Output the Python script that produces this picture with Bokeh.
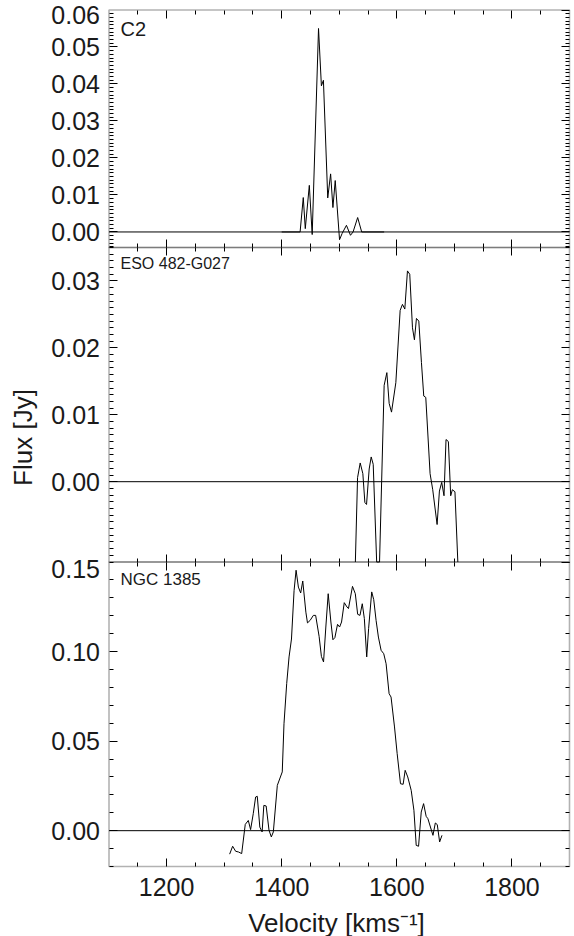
import numpy as np
from bokeh.plotting import figure
from bokeh.models import (Range1d, LinearAxis, FixedTicker, NumeralTickFormatter,
                          Label, BoxAnnotation)
from bokeh.embed import file_html
from bokeh.resources import INLINE

# ---------------- data ----------------
panel_names = ["C2", "ESO 482-G027", "NGC 1385"]

c2_vel = [1400, 1432, 1437.5, 1441, 1448, 1453, 1464, 1469, 1472.5, 1480, 1485,
          1489, 1493, 1500.5, 1505, 1512.5, 1519.5, 1524, 1532, 1539, 1578]
c2_flux = [0, 0, 0.0093, 0.0009, 0.0126, -0.0007, 0.0550, 0.0395, 0.0410, 0.0092,
           0.0157, 0.0066, 0.0139, -0.0021, -0.0004, 0.0018, -0.0009, 0.0, 0.0039,
           0.0, 0.0]

eso_vel = [1528, 1531.8, 1536.4, 1541, 1544.5, 1547.4, 1552, 1555.5, 1559, 1565,
           1570, 1578, 1582.7, 1586.7, 1590.8, 1598.3, 1605.8, 1609.8, 1613.9, 1618.5,
           1622.5, 1627.2, 1630.6, 1634.1, 1638.2, 1642.8, 1646.8, 1650.3, 1657.8,
           1662.4, 1670, 1674, 1678, 1682, 1685.5, 1689.6, 1693.6, 1696.5, 1701, 1706]
eso_flux = [-0.012, 0.0006, 0.0028, 0.0012, -0.0031, -0.0034, 0.0019, 0.0037, 0.0026,
            -0.012, -0.012, 0.0144, 0.0163, 0.0117, 0.0104, 0.0148, 0.0256, 0.0265,
            0.0258, 0.0315, 0.0310, 0.0230, 0.0212, 0.0244, 0.0240, 0.0178, 0.0128,
            0.0126, 0.0012, -0.0012, -0.0064, -0.0014, -0.0001, -0.0021, 0.0063,
            0.0060, -0.0021, -0.0012, -0.0015, -0.012]

ngc_vel = [1309.6, 1314.8, 1320, 1325, 1330.5, 1336.7, 1342, 1346, 1350.6, 1354.7,
           1357.6, 1362, 1366, 1369, 1373, 1378, 1382, 1385.5, 1392.4, 1401, 1404,
           1408.7, 1412.8, 1417, 1421.5, 1425, 1429, 1433, 1436.6, 1442, 1444.8,
           1449.4, 1455, 1459, 1465, 1469, 1472.7, 1476.7, 1480.8, 1485.5, 1489,
           1492.4, 1497, 1500.6, 1504, 1508.7, 1513.4, 1516, 1523, 1527.9, 1532, 1536,
           1540, 1543.6, 1547.7, 1551, 1556.4, 1559.9, 1564, 1568, 1572.7, 1577.3,
           1581.4, 1586.6, 1590, 1596, 1600.6, 1606.4, 1611, 1614.5, 1619, 1625,
           1629.7, 1633.7, 1637.8, 1642.4, 1646.5, 1651, 1654, 1662.8, 1666.9, 1670.3,
           1674.4, 1678.5]
ngc_flux = [-0.0131, -0.0087, -0.0115, -0.0119, -0.0128, 0.0035, 0.0057, 0.0006,
            0.0095, 0.0188, 0.0192, 0.0020, -0.0007, 0.0141, 0.0138, 0.0002, -0.0035,
            -0.0007, 0.0253, 0.0328, 0.0597, 0.0821, 0.0970, 0.1070, 0.1340, 0.1454,
            0.1360, 0.1327, 0.1394, 0.1220, 0.1160, 0.1174, 0.1202, 0.1202, 0.1085,
            0.0973, 0.0942, 0.1137, 0.1323, 0.1165, 0.1066, 0.1078, 0.1152, 0.1137,
            0.1165, 0.1273, 0.1249, 0.1240, 0.1364, 0.1323, 0.1208, 0.1202, 0.1267,
            0.1184, 0.0970, 0.1128, 0.1333, 0.1290, 0.1174, 0.1081, 0.1007, 0.0988,
            0.0932, 0.0765, 0.0746, 0.0579, 0.0430, 0.0262, 0.0259, 0.0337, 0.0300,
            0.0225, 0.0114, -0.0082, -0.0087, 0.0104, 0.0151, 0.0080, 0.0067, -0.0026,
            0.0043, 0.0034, -0.0063, -0.0026]

x_ticks = [1200, 1400, 1600, 1800]
x_minor = [1150, 1250, 1300, 1350, 1450, 1500, 1550, 1650, 1700, 1750, 1850]

c2_yticks = [0.00, 0.01, 0.02, 0.03, 0.04, 0.05, 0.06]
eso_yticks = [0.00, 0.01, 0.02, 0.03]
ngc_yticks = [0.00, 0.05, 0.10, 0.15]

# ---------------- layout / style ----------------
FONT = "Liberation Sans"
TXT = "#1a1a1a"
TICK_FS = "25px"
TITLE_FS = "26px"
NAME_FS = ["20px", "16px", "17px"]
W, H = 574, 936
XLO, XHI = 1100, 1900
XL, XR = 108.5, 569.0            # canvas x of XLO / XHI
upx = (XHI - XLO) / (XR - XL)
x_range = Range1d(XLO - XL * upx, XHI + (W - XR) * upx)

# name: (ylo, yhi, frame bottom [px from canvas bottom], frame height [px], minor step)
PANELS = {
    "p1": (-0.0042, 0.06, 689, 237.5, 0.001),
    "p2": (-0.012, 0.035, 374.5, 314.5, 0.001),
    "p3": (-0.02, 0.15, 70, 304.5, 0.01),
}


def make_range(lo, hi, b, h):
    upp = (hi - lo) / h
    s = lo - b * upp
    return Range1d(s, s + H * upp)


ranges = {k: make_range(*v[:4]) for k, v in PANELS.items()}
r3 = ranges["p3"]


def y3(px):  # canvas px from bottom -> default (panel 3) units
    return r3.start + px * (r3.end - r3.start) / H


def rn(k):
    return "default" if k == "p3" else k


p = figure(width=W, height=H, x_range=x_range, y_range=r3,
           output_backend="svg", toolbar_location=None,
           x_axis_location=None, y_axis_location=None,
           min_border_left=0, min_border_right=0, min_border_top=0, min_border_bottom=0)
p.extra_y_ranges = {"p1": ranges["p1"], "p2": ranges["p2"]}
p.outline_line_color = None
p.grid.grid_line_color = None
p.background_fill_color = "white"
p.border_fill_color = "white"


def base_axis(**kw):
    ax = LinearAxis(**kw)
    ax.axis_line_color = None
    ax.major_tick_out = 0
    ax.minor_tick_out = 0
    ax.major_tick_in = 8
    ax.minor_tick_in = 4
    ax.major_tick_line_color = "black"
    ax.minor_tick_line_color = "black"
    ax.major_tick_line_width = 1
    ax.minor_tick_line_width = 1
    ax.major_label_text_font = FONT
    ax.major_label_text_font_size = TICK_FS
    ax.major_label_text_color = TXT
    return ax


def bare_axes(side, majors, minors, **kw):
    # ticks only, no labels: majors drawn as long "minor" ticks
    a1 = base_axis(ticker=FixedTicker(ticks=[], minor_ticks=minors), **kw)
    a2 = base_axis(ticker=FixedTicker(ticks=[], minor_ticks=majors), **kw)
    a2.minor_tick_in = 8
    p.add_layout(a1, side)
    p.add_layout(a2, side)


yticks = {"p1": c2_yticks, "p2": eso_yticks, "p3": ngc_yticks}

for k, (lo, hi, b, h, step) in PANELS.items():
    majors = [t for t in yticks[k] if lo <= t <= hi]
    minors = [round(v, 4) for v in np.arange(np.ceil(lo / step) * step, hi + 1e-9, step)
              if all(abs(v - t) > 1e-9 for t in majors)]
    # left axis with labels (top-edge label drawn separately)
    shown = [t for t in majors if t < hi - 1e-9]
    ax = base_axis(ticker=FixedTicker(ticks=shown, minor_ticks=minors),
                   formatter=NumeralTickFormatter(format="0.00"),
                   y_range_name=rn(k), fixed_location=XLO)
    ax.major_label_standoff = 9
    p.add_layout(ax, "left")
    # right axis: ticks only
    bare_axes("right", majors, minors, y_range_name=rn(k), fixed_location=XHI)
    # top and bottom edges of the panel
    bare_axes("above", x_ticks, x_minor, fixed_location=y3(b + h))
    if k != "p3":
        bare_axes("below", x_ticks, x_minor, fixed_location=y3(b))

    # panel frame and zero line
    p.add_layout(BoxAnnotation(left=XLO, right=XHI, bottom=lo, top=hi,
                               y_range_name=rn(k), fill_color=None, fill_alpha=0,
                               line_color="black", line_width=1.6))
    p.segment(x0=[XLO], y0=[0], x1=[XHI], y1=[0], y_range_name=rn(k),
              line_color="black", line_width=1)

# labelled bottom axis
bx = base_axis(ticker=FixedTicker(ticks=x_ticks, minor_ticks=x_minor),
               fixed_location=y3(PANELS["p3"][2]))
bx.major_label_standoff = 11
p.add_layout(bx, "below")

# spectra
p.line(c2_vel, c2_flux, y_range_name="p1", line_color="black", line_width=1)
p.line(eso_vel, eso_flux, y_range_name="p2", line_color="black", line_width=1)
p.line(ngc_vel, ngc_flux, y_range_name="default", line_color="black", line_width=1)

# panel names
for k, name, fs in zip(["p1", "p2", "p3"], panel_names, NAME_FS):
    lo, hi, b, h, _ = PANELS[k]
    p.add_layout(Label(x=120, y=b + h - 7.5, x_units="screen", y_units="screen",
                       text=name, text_font=FONT, text_font_size=fs,
                       text_color=TXT, text_align="left", text_baseline="top"))

# top-edge tick labels (drawn just below the edge, as in the original)
for txt, ypx in (("0.06", H - 5), ("0.15", PANELS["p3"][2] + PANELS["p3"][3] + 2)):
    p.add_layout(Label(x=XLO, x_offset=-9, y=ypx, y_units="screen", text=txt,
                       text_font=FONT, text_font_size=TICK_FS, text_color=TXT,
                       text_align="right", text_baseline="top"))

# axis titles
p.add_layout(Label(x=22, y=H - 437, x_units="screen", y_units="screen", text="Flux [Jy]",
                   angle=np.pi / 2, text_font=FONT, text_font_size=TITLE_FS,
                   text_color=TXT, text_align="center", text_baseline="middle"))
p.add_layout(Label(x=336, y=14, x_units="screen", y_units="screen",
                   text="Velocity [kms\u207b\u00b9]", text_font=FONT,
                   text_font_size=TITLE_FS, text_color=TXT,
                   text_align="center", text_baseline="alphabetic"))

open("out.html", "w").write(file_html(p, INLINE))
